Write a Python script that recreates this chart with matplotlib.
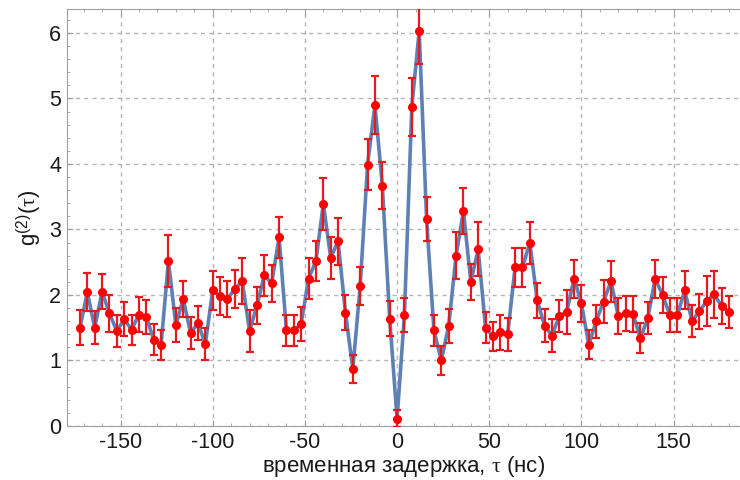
import matplotlib
matplotlib.use('Agg')
import matplotlib.pyplot as plt
import numpy as np
from matplotlib.ticker import MultipleLocator

# delay values (ns), step 4
tau = np.arange(-172, 181, 4)

g2 = [1.50, 2.04, 1.50, 2.05, 1.72, 1.45, 1.63, 1.47, 1.70, 1.66,
      1.32, 1.24, 2.52, 1.54, 1.94, 1.42, 1.57, 1.25, 2.07, 1.98,
      1.94, 2.09, 2.21, 1.45, 1.84, 2.30, 2.18, 2.88, 1.46, 1.46,
      1.56, 2.25, 2.52, 3.39, 2.57, 2.82, 1.73, 0.87, 2.14, 3.99,
      4.90, 3.67, 1.64, 0.11, 1.70, 4.87, 6.03, 3.16, 1.46, 1.00,
      1.53, 2.60, 3.28, 2.20, 2.70, 1.50, 1.37, 1.43, 1.40, 2.42,
      2.42, 2.80, 1.92, 1.53, 1.38, 1.68, 1.74, 2.25, 1.87, 1.24,
      1.60, 1.90, 2.21, 1.68, 1.72, 1.71, 1.34, 1.65, 2.25, 2.00,
      1.69, 1.69, 2.07, 1.60, 1.75, 1.91, 2.01, 1.83, 1.74]

err = [0.27, 0.29, 0.25, 0.27, 0.28, 0.24, 0.26, 0.23, 0.27, 0.26,
       0.24, 0.23, 0.40, 0.26, 0.27, 0.25, 0.26, 0.24, 0.30, 0.29,
       0.27, 0.29, 0.35, 0.32, 0.28, 0.31, 0.28, 0.31, 0.24, 0.24,
       0.26, 0.31, 0.31, 0.40, 0.32, 0.36, 0.27, 0.21, 0.29, 0.39,
       0.44, 0.36, 0.27, 0.13, 0.26, 0.44, 0.50, 0.34, 0.24, 0.22,
       0.26, 0.36, 0.35, 0.28, 0.41, 0.24, 0.22, 0.27, 0.25, 0.30,
       0.30, 0.32, 0.27, 0.25, 0.25, 0.25, 0.33, 0.29, 0.28, 0.22,
       0.25, 0.33, 0.31, 0.27, 0.27, 0.27, 0.23, 0.24, 0.29, 0.28,
       0.26, 0.26, 0.29, 0.24, 0.27, 0.38, 0.36, 0.27, 0.25]

plt.rcParams['font.family'] = ['Liberation Sans', 'DejaVu Sans']
plt.rcParams['mathtext.fontset'] = 'custom'
plt.rcParams['mathtext.rm'] = 'Liberation Sans'
plt.rcParams['mathtext.it'] = 'Liberation Serif'

fig = plt.figure(figsize=(7.4, 4.8), dpi=100)
ax = fig.add_axes([0.0901, 0.1125, 0.9099, 0.868])

ax.plot(tau, g2, color='#5E81B5', lw=2.6, zorder=2)
ax.errorbar(tau, g2, yerr=err, fmt='none', ecolor='#E41A1C', elinewidth=1.6,
            capsize=3, capthick=1.6, zorder=3)
ax.plot(tau, g2, 'o', color='#FF0000', ms=5.5, zorder=4)

ax.set_xlim(-179.2, 186)
ax.set_ylim(0, 6.36)

ax.xaxis.set_major_locator(MultipleLocator(50))
ax.xaxis.set_minor_locator(MultipleLocator(10))
ax.yaxis.set_major_locator(MultipleLocator(1))
ax.yaxis.set_minor_locator(MultipleLocator(0.2))

ax.grid(True, which='major', color='#b5b5b5', ls=(0, (3, 3)), lw=1.0)
ax.set_axisbelow(True)

for s in ['left', 'bottom', 'top']:
    ax.spines[s].set_color('#a0a0a0')
ax.spines['right'].set_visible(False)

ax.tick_params(which='both', direction='in', top=True, colors='#a0a0a0',
               labelcolor='#1a1a1a', labelsize=15.5)
ax.tick_params(which='major', length=4, pad=4)
ax.tick_params(which='minor', length=2)

ax.xaxis.set_major_formatter(plt.FuncFormatter(lambda v, p: '%d' % v))

ax.set_xlabel('временная задержка, $\\tau$ (нс)', fontsize=16, color='#1a1a1a', labelpad=1)
ax.set_ylabel('g$^{(2)}$($\\tau$)', fontsize=16, color='#1a1a1a', labelpad=4)

fig.savefig('out.png', dpi=100)
